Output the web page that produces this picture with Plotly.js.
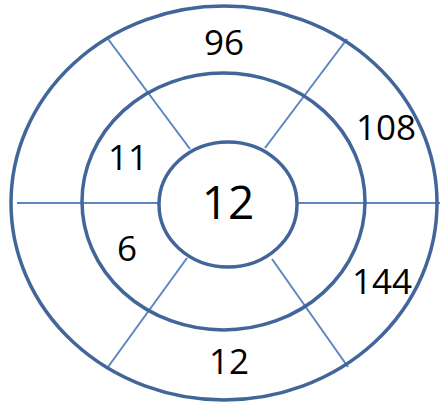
<!DOCTYPE html>
<html>
<head>
<meta charset="utf-8">
<script src="https://cdn.plot.ly/plotly-3.0.1.min.js"></script>
<style>html,body{margin:0;padding:0;background:#fff;}#chart{width:440px;height:403px;}</style>
</head>
<body>
<div id="chart"></div>
<script>
// Segment values (outer ring, middle ring, centre)
var segments = ["outer-top", "outer-right-upper", "outer-right-lower", "outer-bottom", "middle-left-upper", "middle-left-lower", "centre"];
var values = [96, 108, 144, 12, 11, 6, 12];

// Label placement (pixel-like coordinates in the drawing frame)
var labelX = [224, 386, 382, 229, 128, 127, 228];
var labelY = [46, 131, 285, 365, 161, 252, 207];
var labelSize = [35, 35, 35, 35, 35, 35, 46];

// Ring geometry: [cx, cy, rx, ry]
var rings = [[224, 203, 213, 197], [223.5, 201.5, 141.5, 128.5], [228, 204.5, 69, 62.5]];
// Divider lines: [x0, y0, x1, y1]
var dividers = [
  [17, 203, 159, 203], [297, 203, 440, 203],
  [108, 39, 190, 149], [347, 39, 265, 148],
  [108, 367, 187, 258], [348, 367, 272, 259]
];

var shapes = [];
dividers.forEach(function (d) {
  shapes.push({type: 'line', xref: 'x', yref: 'y', x0: d[0], y0: d[1], x1: d[2], y1: d[3],
    line: {color: '#5b86c0', width: 2}, layer: 'below'});
});
rings.forEach(function (r) {
  shapes.push({type: 'circle', xref: 'x', yref: 'y', x0: r[0] - r[2], x1: r[0] + r[2],
    y0: r[1] - r[3], y1: r[1] + r[3], line: {color: '#42659a', width: 3.5}, fillcolor: 'rgba(0,0,0,0)'});
});

var trace = {
  x: labelX, y: labelY, text: values.map(String), customdata: segments,
  mode: 'text', type: 'scatter', textposition: 'middle center',
  textfont: {family: 'Open Sans, sans-serif', size: labelSize, color: '#000000'},
  hoverinfo: 'skip', cliponaxis: false
};

var layout = {
  width: 440, height: 403,
  margin: {l: 0, r: 0, t: 0, b: 0},
  paper_bgcolor: '#ffffff', plot_bgcolor: '#ffffff',
  xaxis: {range: [0, 440], visible: false, fixedrange: true},
  yaxis: {range: [403, 0], visible: false, fixedrange: true},
  shapes: shapes, showlegend: false
};

Plotly.newPlot('chart', [trace], layout, {staticPlot: true, displayModeBar: false});
</script>
</body>
</html>
